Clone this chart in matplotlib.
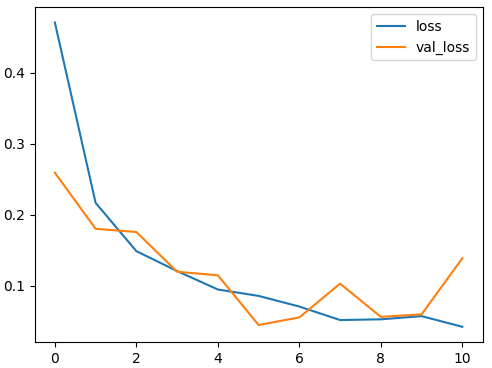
import matplotlib
matplotlib.use('Agg')
import matplotlib.pyplot as plt

# Training history per epoch
epochs = list(range(11))
loss = [0.471, 0.217, 0.149, 0.121, 0.095, 0.086, 0.071, 0.052, 0.053, 0.0575, 0.0425]
val_loss = [0.2595, 0.1805, 0.176, 0.120, 0.115, 0.045, 0.0557, 0.1033, 0.0565, 0.060, 0.139]

fig = plt.figure(figsize=(4.92, 3.68), dpi=100)
ax = fig.add_axes([34.5 / 492, 1 - 342 / 368, (482.7 - 34.5) / 492, (342 - 7.3) / 368])
ax.plot(epochs, loss, label='loss')
ax.plot(epochs, val_loss, label='val_loss')
ax.legend()
fig.savefig('out.png', dpi=100)
